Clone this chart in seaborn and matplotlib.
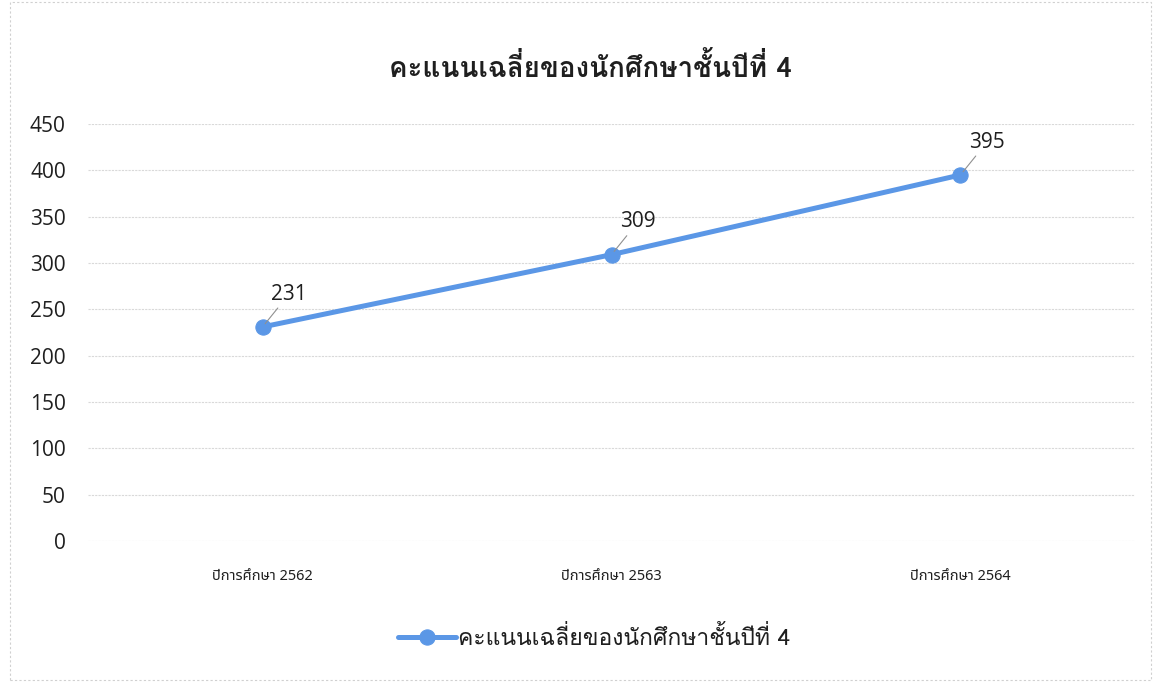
import matplotlib
matplotlib.use("Agg")
import matplotlib.pyplot as plt
import pandas as pd
import seaborn as sns
from matplotlib.patches import Rectangle

# datos
years = ["ปีการศึกษา 2562", "ปีการศึกษา 2563", "ปีการศึกษา 2564"]
scores = [231, 309, 395]
series_name = "คะแนนเฉลี่ยของนักศึกษาชั้นปีที่ 4"
title = "คะแนนเฉลี่ยของนักศึกษาชั้นปีที่ 4"
yticks = [0, 50, 100, 150, 200, 250, 300, 350, 400, 450]

df = pd.DataFrame({"year": years, "score": scores})

sns.set_theme(style="white")
plt.rcParams["font.family"] = ["Loma", "Noto Sans Thai Looped", "DejaVu Sans"]

blue = "#5B97E6"
grid = "#d9d9d9"
txt = "#1f1f1f"
num_font = ["Open Sans", "DejaVu Sans"]

fig = plt.figure(figsize=(11.54, 6.82), dpi=100)
ax = fig.add_axes([0.0763, 0.2067, 0.9072, 0.6115])

sns.lineplot(data=df, x="year", y="score", ax=ax, sort=False, color=blue,
             linewidth=3.6, marker="o", markersize=11, markeredgecolor=blue,
             label=series_name)

ax.set_xlim(-0.5, 2.5)
ax.set_ylim(0, 450)
ax.set_yticks(yticks)
ax.yaxis.grid(True, color=grid, linewidth=0.8, linestyle=(0, (2, 1)))
ax.xaxis.grid(False)
for s in ax.spines.values():
    s.set_visible(False)
ax.set_xlabel("")
ax.set_ylabel("")
ax.tick_params(axis="y", length=0, pad=16, labelsize=15, labelcolor=txt)
ax.tick_params(axis="x", length=0, pad=20, labelsize=10.5, labelcolor=txt)
for lab in ax.get_yticklabels():
    lab.set_family(num_font)
for lab in ax.get_xticklabels():
    lab.set_family(["Noto Sans Thai", "DejaVu Sans"])

# etiquetas de datos
for i, v in enumerate(scores):
    ax.annotate(str(v), xy=(i, v), xytext=(19, 16), textcoords="offset points",
                ha="center", va="bottom", fontsize=15, color=txt, family=num_font,
                arrowprops=dict(arrowstyle="-", color="#909090", lw=0.8,
                                shrinkA=0, shrinkB=3))

fig.text(0.512, 0.902, title, ha="center", va="center", fontsize=20,
         fontweight="bold", color=txt)

ax.legend_.remove()
handles, labels = ax.get_legend_handles_labels()
fig.legend(handles, labels, loc="center", bbox_to_anchor=(0.515, 0.065),
           frameon=False, fontsize=16.5, handlelength=2.5, handletextpad=0.1,
           labelcolor=txt)

fig.patches.append(Rectangle((0.009, 0.003), 0.988, 0.994, transform=fig.transFigure,
                             fill=False, edgecolor="#d0d0d0", linewidth=0.8,
                             linestyle=(0, (2, 2))))

fig.savefig("out.png", dpi=100)
